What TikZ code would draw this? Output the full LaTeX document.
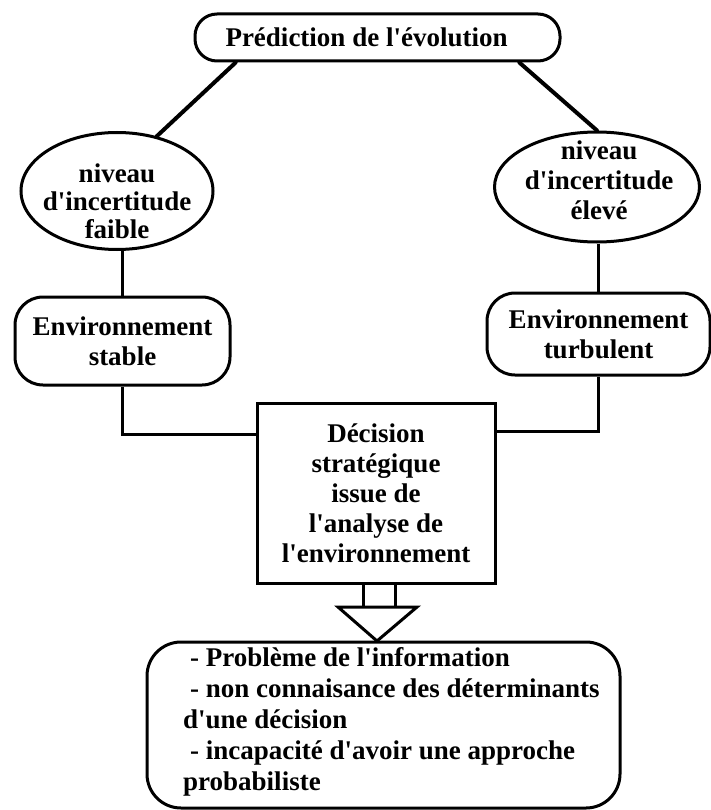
\documentclass[tikz,border=0pt]{standalone}
\usepackage{fontspec}
\setmainfont{Liberation Serif}[Ligatures=TeXOff]
\usetikzlibrary{shapes.geometric}
\begin{document}
\begin{tikzpicture}[x=1pt,y=-1pt,
  txt/.style={font=\bfseries\fontsize{27}{30}\selectfont, inner sep=0pt},
  frame/.style={draw, line width=3pt, inner sep=0pt},
  roundbox/.style={frame, txt, align=center},
  oval/.style={frame, ellipse},
  wire/.style={line width=3pt},
  slant/.style={line width=4pt, line cap=round}]
\useasboundingbox (0,0) rectangle (711,810);

% top: prediction
\node[roundbox, rounded corners=22pt, minimum width=365pt, minimum height=47pt]
  (pred) at (377.5,37.5) {\hspace*{-22pt}Prédiction de l'évolution};

% uncertainty levels
\node[oval, minimum width=192pt, minimum height=117pt] (lel) at (117,191) {};
\node[txt, align=center, font=\bfseries\fontsize{27}{28}\selectfont] (lelt) at (117,201)
  {niveau\\d'incertitude\\faible};
\node[oval, minimum width=205pt, minimum height=110pt] (rel) at (597,187) {};
\node[txt, align=center] (relt) at (599,180)
  {niveau\\d'incertitude\\élevé};

% environments
\node[roundbox, rounded corners=28pt, minimum width=215pt, minimum height=88pt]
  (stab) at (122.5,341) {Environnement\\stable};
\node[roundbox, rounded corners=28pt, minimum width=223pt, minimum height=82pt]
  (turb) at (598.5,334) {Environnement\\turbulent};

% strategic decision
\node[frame, txt, align=center, minimum width=238pt, minimum height=180pt]
  (dec) at (376,493) {Décision\\stratégique\\issue de\\l'analyse de\\l'environnement};

% consequences
\node[frame, rounded corners=34pt, minimum width=473pt, minimum height=166pt]
  (res) at (383.5,725) {};
\node[txt, align=left, anchor=west, font=\bfseries\fontsize{27}{31}\selectfont]
  (rest) at (183,722)
  {\hspace*{7pt}- Problème de l'information\\
   \hspace*{7pt}- non connaisance des déterminants\\
   d'une décision\\
   \hspace*{7pt}- incapacité d'avoir une approche\\
   probabiliste};

% connectors
\draw[slant] (pred.190) -- (lel.54);
\draw[slant] (pred.350) -- (rel.north);
\draw[wire] (lel.south -| stab.north) -- (stab.north);
\draw[wire] (rel.south -| turb.north) -- (turb.north);
\draw[wire] (stab.south) |- (dec.154);
\draw[wire] (turb.south) |- (dec.27);

% hollow arrow from decision to consequences
\draw[wire] (363,583) -- (363,607) (395,583) -- (395,607);
\draw[wire, line join=miter] (338,607) -- (417,607) -- (377,641) -- cycle;
\end{tikzpicture}
\end{document}
